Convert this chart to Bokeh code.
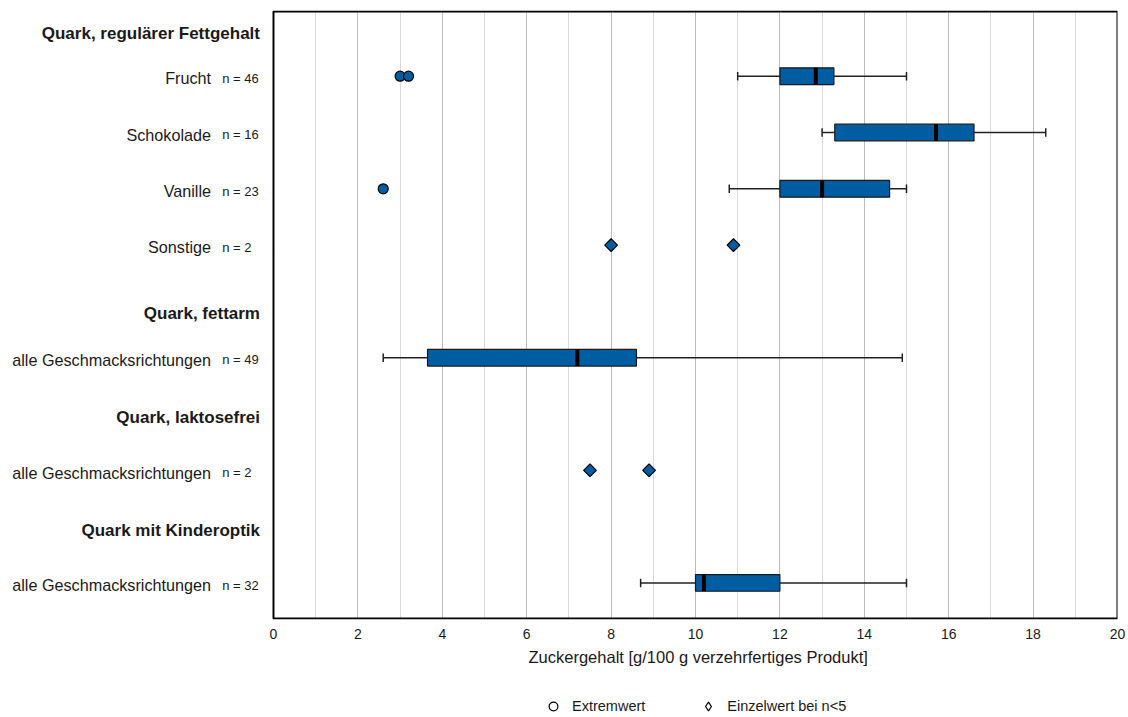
import numpy as np
from bokeh.plotting import figure
from bokeh.layouts import column
from bokeh.models import (Range1d, Legend, LegendItem, FixedTicker, BoxAnnotation, Title)
from bokeh.core.properties import value
from bokeh.embed import file_html
from bokeh.resources import INLINE

FONT = "Liberation Sans"
TXT = "#1a1a1a"
BLUE = "#005da2"

# ---- data ----
header_labels = ["Quark, regulärer Fettgehalt", "Quark, fettarm", "Quark, laktosefrei", "Quark mit Kinderoptik"]
header_pos = [-0.76, 4.21, 6.06, 8.07]

row_labels = ["Frucht", "Schokolade", "Vanille", "Sonstige",
              "alle Geschmacksrichtungen", "alle Geschmacksrichtungen", "alle Geschmacksrichtungen"]
row_n = [46, 16, 23, 2, 49, 2, 32]
row_pos = [0, 1, 2, 3, 5, 7, 9]

box_pos = [0, 1, 2, 5, 9]
whisker_lo = [11.0, 13.0, 10.8, 2.6, 8.7]
q1 = [12.0, 13.3, 12.0, 3.65, 10.0]
median = [12.85, 15.7, 13.0, 7.2, 10.2]
q3 = [13.28, 16.6, 14.6, 8.6, 12.0]
whisker_hi = [15.0, 18.3, 15.0, 14.9, 15.0]

outlier_x = [3.0, 3.2, 2.6]
outlier_pos = [0, 0, 2]

single_x = [8.0, 10.9, 7.5, 8.9]
single_pos = [3, 3, 7, 7]

x_ticks = [0, 2, 4, 6, 8, 10, 12, 14, 16, 18, 20]
x_minor = [1, 3, 5, 7, 9, 11, 13, 15, 17, 19]
x_title = "Zuckergehalt [g/100 g verzehrfertiges Produkt]"
legend_labels = ["Extremwert", "Einzelwert bei n<5"]

# ---- layout constants ----
X_LEFT = -6.469          # label area left of the value axis (0 sits at 273 px)
Y_TOP, Y_BOTTOM = -1.167, 9.650
BOX_TOP, BOX_BOTTOM = -1.149, 9.632
LBL_DY = 0.04

p = figure(frame_width=1117, frame_height=609,
           min_border_left=0, min_border_right=11, min_border_top=10, min_border_bottom=76,
           x_range=Range1d(X_LEFT, x_ticks[-1]), y_range=Range1d(Y_BOTTOM, Y_TOP),
           y_axis_location=None, output_backend="svg", toolbar_location=None)
p.background_fill_color = "white"
p.border_fill_color = "white"
p.outline_line_color = None

ticker = FixedTicker(ticks=x_ticks, minor_ticks=x_minor)
p.xaxis.ticker = ticker
p.xgrid.ticker = ticker
p.xgrid.grid_line_color = "#bdbdbd"
p.xgrid.minor_grid_line_color = "#d9d9d9"
p.ygrid.grid_line_color = None
p.xaxis.axis_line_color = None
p.xaxis.major_tick_line_color = None
p.xaxis.minor_tick_line_color = None
p.xaxis.major_tick_out = 0
p.xaxis.major_tick_in = 0
p.xaxis.minor_tick_out = 0
p.xaxis.major_label_standoff = 9
p.xaxis.major_label_text_font = FONT
p.xaxis.major_label_text_font_size = "14px"
p.xaxis.major_label_text_color = TXT

# plot-area border
p.add_layout(BoxAnnotation(left=x_ticks[0], right=x_ticks[-1], top=BOX_TOP, bottom=BOX_BOTTOM,
                           fill_alpha=0, line_color="black", line_alpha=1, line_width=2, level="overlay"))

# whiskers
bp = np.array(box_pos, dtype=float)
WC = "#222222"
p.segment(x0=whisker_lo, y0=box_pos, x1=q1, y1=box_pos, line_color=WC, line_width=1.5)
p.segment(x0=q3, y0=box_pos, x1=whisker_hi, y1=box_pos, line_color=WC, line_width=1.5)
p.segment(x0=whisker_lo, y0=bp - 0.075, x1=whisker_lo, y1=bp + 0.075, line_color=WC, line_width=1.5)
p.segment(x0=whisker_hi, y0=bp - 0.075, x1=whisker_hi, y1=bp + 0.075, line_color=WC, line_width=1.5)
# boxes
p.hbar(y=box_pos, left=q1, right=q3, height=0.296, fill_color=BLUE, line_color="#1a1a1a", line_width=1.2)
# medians
p.segment(x0=median, y0=bp - 0.148, x1=median, y1=bp + 0.148, line_color="black", line_width=4)
# outliers & single values
p.scatter(x=outlier_x, y=outlier_pos, marker="circle", size=10, fill_color=BLUE,
          line_color="black", line_width=1.2)
p.scatter(x=single_x, y=single_pos, marker="square", angle=np.pi / 4, size=9, fill_color=BLUE,
          line_color="black", line_width=1.2)

# category labels (inside frame, left of the value area)
ry = np.array(row_pos, dtype=float) + LBL_DY
p.text(x=[-1.48] * len(row_labels), y=ry, text=row_labels, text_align="right", text_baseline="middle",
       text_font=value(FONT), text_font_size=value("16.2px"), text_color=TXT)
p.text(x=[-1.215] * len(row_n), y=ry, text=[f"n = {n}" for n in row_n], text_align="left",
       text_baseline="middle", text_font=value(FONT), text_font_size=value("13px"), text_color=TXT)
p.text(x=[-0.32] * len(header_labels), y=header_pos, text=header_labels, text_align="right",
       text_baseline="middle", text_font=value(FONT), text_font_size=value("17px"),
       text_font_style="bold", text_color=TXT)

# x-axis title
p.add_layout(Title(text=x_title, align="left", offset=528, standoff=8, text_font=FONT,
                   text_font_size="16.5px", text_font_style="normal", text_color=TXT), "below")

# ---- legend strip ----
p2 = figure(width=1128, height=22, min_border=0, x_range=Range1d(0, 1), y_range=Range1d(0, 1),
            x_axis_location=None, y_axis_location=None, output_backend="svg", toolbar_location=None)
p2.outline_line_color = None
p2.xgrid.grid_line_color = None
p2.ygrid.grid_line_color = None
r1 = p2.scatter(x=[-100], y=[-100], marker="circle", size=9, fill_color=None, line_color="black", line_width=1.2)
r2 = p2.scatter(x=[-100], y=[-100], marker="diamond", size=12, fill_color=None,
                line_color="black", line_width=1.2)
legend = Legend(items=[LegendItem(label=legend_labels[0], renderers=[r1]),
                       LegendItem(label=legend_labels[1], renderers=[r2])],
                orientation="horizontal", location=(542, 0),
                glyph_width=22, glyph_height=22, label_standoff=8, spacing=52,
                padding=0, margin=0, border_line_color=None, background_fill_alpha=0,
                label_text_font=FONT, label_text_font_size="14.5px", label_text_color=TXT)
p2.add_layout(legend, "center")

layout = column(p, p2, spacing=0)
open("out.html", "w").write(file_html(layout, INLINE))
